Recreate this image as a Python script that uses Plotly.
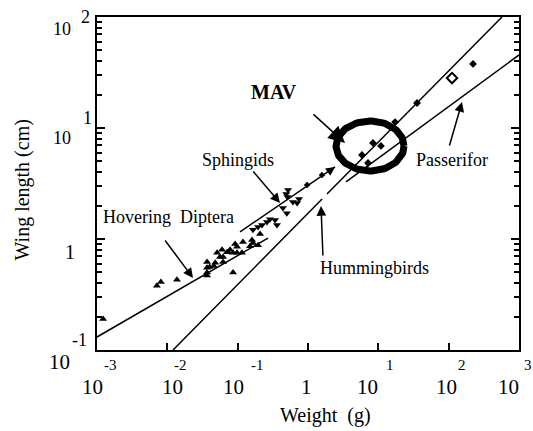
import numpy as np
import plotly.graph_objects as go

# ---------------- data ----------------
# Hovering Diptera / small insects (up triangles)
insect_weight = [0.00122, 0.0071, 0.0081, 0.0137, 0.0367, 0.0367, 0.0367, 0.040, 0.046,
                 0.0367, 0.051, 0.060, 0.048, 0.062, 0.062, 0.073, 0.086, 0.098, 0.115,
                 0.119, 0.092, 0.086, 0.150, 0.165, 0.195, 0.208, 0.160, 0.078, 0.056,
                 0.0705, 0.098]
insect_wing = [0.19, 0.38, 0.41, 0.43, 0.47, 0.50, 0.55, 0.56, 0.57,
               0.62, 0.75, 0.80, 0.61, 0.62, 0.69, 0.76, 0.75, 0.75, 0.75,
               0.94, 0.90, 0.50, 0.86, 0.92, 0.88, 1.11, 0.98, 0.80, 0.69,
               0.76, 0.85]

# Sphingids (down triangles)
sph_weight = [0.165, 0.195, 0.222, 0.261, 0.288, 0.34, 0.362, 0.44, 0.50, 0.52, 0.49,
              0.51, 0.61, 0.745, 0.70]
sph_wing = [1.21, 1.28, 1.34, 1.42, 1.51, 1.48, 1.34, 1.90, 1.71, 2.76, 2.54,
            2.39, 2.15, 2.29, 2.11]
sph_line_pts_weight = [0.97, 1.58]
sph_line_pts_wing = [3.06, 3.78]

# birds (small dots)
bird_weight = [5.86, 7.13, 8.39, 10.9, 17.3, 35.5, 222]
bird_wing = [5.71, 4.84, 7.33, 6.89, 11.3, 16.8, 37.8]
bird_open_weight = [111.6]
bird_open_wing = [28.2]

# stray mark below the axis
stray_weight = [0.0753]
stray_wing = [0.0764]

# fitted lines
diptera_line_weight = [0.001, 0.27]
diptera_line_wing = [0.131, 1.02]
sphingid_line_weight = [0.108, 2.42]
sphingid_line_wing = [1.16, 4.46]
hb_line1_weight = [0.01205, 1.585]
hb_line1_wing = [0.1, 2.29]
hb_line2_weight = [1.86, 573]
hb_line2_wing = [2.54, 100]
pass_line_weight = [3.47, 1000]
pass_line_wing = [3.27, 45.5]

# MAV ring (centre and half-axes in decades)
mav_center = (0.882, 0.838)   # log10 weight, log10 wing
mav_radius = (0.483, 0.225)

# tick labels
x_tick_vals = [-3, -2, -1, 0, 1, 2, 3]
x_tick_base = ["10", "10", "10", "1", "10", "10", "10"]
x_tick_exp = ["-3", "-2", "-1", "", "1", "2", "3"]
y_tick_vals = [2, 1, 0, -1]
y_tick_base = ["10", "10", "1", "10"]
y_tick_exp = ["2", "1", "", "-1"]
y_major_vals = [0.1, 1, 10, 100]
y_minor_vals = [m * 10.0 ** d for d in (-1, 0, 1) for m in range(2, 10)]

# ---------------- styling / positions ----------------
FONT = "Liberation Serif, Times New Roman, serif"
x_base_dx = [-5, 5, -4, -2, -11, -2, -11]
x_exp_dx = [13, 13, 20, 0, 12, 13, 9]
y_base_dx = [-35, -35, -27, -38]
y_base_dy = [-12, -10, -13, -12]
y_base_size = [18, 18, 20, 21]
y_exp_dx = [-12, -10, 0, -18]
y_exp_dy = [0, 10, 0, 10]

fig = go.Figure()

line_style = dict(color="black", width=1.5)
for xs, ys in [(diptera_line_weight, diptera_line_wing),
               (sphingid_line_weight, sphingid_line_wing),
               (hb_line1_weight, hb_line1_wing),
               (hb_line2_weight, hb_line2_wing),
               (pass_line_weight, pass_line_wing)]:
    fig.add_trace(go.Scatter(x=xs, y=ys, mode="lines", line=line_style,
                             showlegend=False, hoverinfo="skip"))

fig.add_trace(go.Scatter(x=insect_weight, y=insect_wing, mode="markers",
                         marker=dict(symbol="triangle-up", size=7, color="black"),
                         showlegend=False))
fig.add_trace(go.Scatter(x=sph_weight, y=sph_wing, mode="markers",
                         marker=dict(symbol="triangle-down", size=7, color="black"),
                         showlegend=False))
fig.add_trace(go.Scatter(x=sph_line_pts_weight, y=sph_line_pts_wing, mode="markers",
                         marker=dict(symbol="diamond", size=5, color="black"),
                         showlegend=False))
fig.add_trace(go.Scatter(x=bird_weight, y=bird_wing, mode="markers",
                         marker=dict(symbol="diamond", size=6, color="black"),
                         showlegend=False))
fig.add_trace(go.Scatter(x=bird_open_weight, y=bird_open_wing, mode="markers",
                         marker=dict(symbol="diamond-open", size=8, color="black",
                                     line=dict(width=2)),
                         showlegend=False))
fig.add_trace(go.Scatter(x=stray_weight, y=stray_wing, mode="markers", cliponaxis=False,
                         marker=dict(symbol="triangle-up", size=6, color="black"),
                         showlegend=False))

# MAV ring
t = np.linspace(0, 2 * np.pi, 121)
ring_x = 10 ** (mav_center[0] + mav_radius[0] * np.cos(t))
ring_y = 10 ** (mav_center[1] + mav_radius[1] * np.sin(t))
fig.add_trace(go.Scatter(x=ring_x, y=ring_y, mode="lines",
                         line=dict(color="black", width=7),
                         showlegend=False, hoverinfo="skip"))

# invisible trace that anchors the overlay axis used for minor ticks
fig.add_trace(go.Scatter(x=[None], y=[None], yaxis="y2", mode="markers",
                         showlegend=False, hoverinfo="skip"))

annotations = []

# arrowhead at the end of the Sphingid line
annotations.append(dict(x=np.log10(sphingid_line_weight[1]), y=np.log10(sphingid_line_wing[1]),
                        ax=np.log10(sphingid_line_weight[1]) - 0.1,
                        ay=np.log10(sphingid_line_wing[1]) - 0.045,
                        axref="x", ayref="y", xref="x", yref="y", text="",
                        showarrow=True, arrowhead=2, arrowsize=1.2, arrowwidth=1.5,
                        arrowcolor="black", standoff=0))

# labels with arrows: (text, text_x, text_y, tail_x, tail_y, tip_x, tip_y, bold, size, head)
labels = [
    ("Hovering  Diptera", -1.990, 0.198, -2.047, 0.0, -1.635, -0.351, False, 18, 2),
    ("Sphingids", -0.995, 0.712, -0.796, 0.622, -0.398, 0.324, False, 18, 2),
    ("Hummingbirds", 0.939, -0.261, 0.213, -0.162, 0.185, 0.297, False, 18, 2),
    ("Passerifor", 2.048, 0.712, 2.005, 0.829, 2.190, 1.234, False, 18, 2),
    ("MAV", -0.483, 1.324, 0.057, 1.135, 0.526, 0.865, True, 20, 2),
]
for txt, tx, ty, ax_, ay_, hx, hy, bold, size, head in labels:
    annotations.append(dict(x=tx, y=ty, xref="x", yref="y", showarrow=False,
                            text=f"<b>{txt}</b>" if bold else txt,
                            font=dict(family=FONT, size=size, color="black")))
    annotations.append(dict(x=hx, y=hy, ax=ax_, ay=ay_, axref="x", ayref="y",
                            xref="x", yref="y", text="", showarrow=True,
                            arrowhead=head, arrowsize=1.3 if not bold else 2.2,
                            arrowwidth=1.5, arrowcolor="black", standoff=0))

# x tick labels
for v, b, e, bdx, edx in zip(x_tick_vals, x_tick_base, x_tick_exp, x_base_dx, x_exp_dx):
    annotations.append(dict(x=v, y=0, xref="x", yref="paper", text=b, showarrow=False,
                            xanchor="center", yanchor="middle", xshift=bdx, yshift=-37,
                            font=dict(family=FONT, size=21, color="black")))
    if e:
        annotations.append(dict(x=v, y=0, xref="x", yref="paper", text=e, showarrow=False,
                                xanchor="center", yanchor="middle", xshift=edx, yshift=-15,
                                font=dict(family=FONT, size=15, color="black")))

# y tick labels
for v, b, e, bdx, bdy, bs, edx, edy in zip(y_tick_vals, y_tick_base, y_tick_exp, y_base_dx,
                                           y_base_dy, y_base_size, y_exp_dx, y_exp_dy):
    annotations.append(dict(x=0, y=v, xref="paper", yref="y", text=b, showarrow=False,
                            xanchor="center", yanchor="middle", xshift=bdx, yshift=bdy,
                            font=dict(family=FONT, size=bs, color="black")))
    if e:
        annotations.append(dict(x=0, y=v, xref="paper", yref="y", text=e, showarrow=False,
                                xanchor="center", yanchor="middle", xshift=edx, yshift=edy,
                                font=dict(family=FONT, size=18, color="black")))

# axis titles
annotations.append(dict(x=0.5, y=0, xref="paper", yref="paper", text="Weight  (g)",
                        showarrow=False, xanchor="center", yanchor="middle",
                        xshift=325 - 308, yshift=-65,
                        font=dict(family=FONT, size=20, color="black")))
annotations.append(dict(x=0, y=0.5, xref="paper", yref="paper", text="Wing length (cm)",
                        showarrow=False, textangle=-90, xanchor="center", yanchor="middle",
                        xshift=-75, yshift=-7,
                        font=dict(family=FONT, size=20, color="black")))

fig.update_layout(
    width=533, height=431,
    margin=dict(l=97, r=14, t=17, b=81),
    paper_bgcolor="white", plot_bgcolor="white",
    showlegend=False,
    annotations=annotations,
    font=dict(family=FONT, color="black"),
    xaxis=dict(type="log", range=[-3, 3], showline=True, linecolor="black",
               linewidth=2, mirror=True, ticks="inside", ticklen=7, tickwidth=2,
               tickcolor="black", showgrid=False, zeroline=False,
               tickmode="array", tickvals=[10.0 ** v for v in x_tick_vals],
               ticktext=[""] * len(x_tick_vals)),
    yaxis=dict(type="log", range=[-1, 2], showline=True, linecolor="black",
               linewidth=2, mirror="ticks", ticks="inside", ticklen=8, tickwidth=2,
               tickcolor="black", showgrid=False, zeroline=False,
               tickmode="array", tickvals=y_major_vals,
               ticktext=[""] * len(y_major_vals)),
    yaxis2=dict(type="log", range=[-1, 2], overlaying="y", side="left", anchor="x",
                tickmode="array", tickvals=y_minor_vals,
                ticktext=[""] * len(y_minor_vals), mirror="ticks",
                ticks="inside", ticklen=5, tickwidth=1.5, tickcolor="black",
                showgrid=False, zeroline=False, showline=False),
)

fig.write_html("out.html", config={"displayModeBar": False},
               post_script="document.body.style.margin='0px';")
